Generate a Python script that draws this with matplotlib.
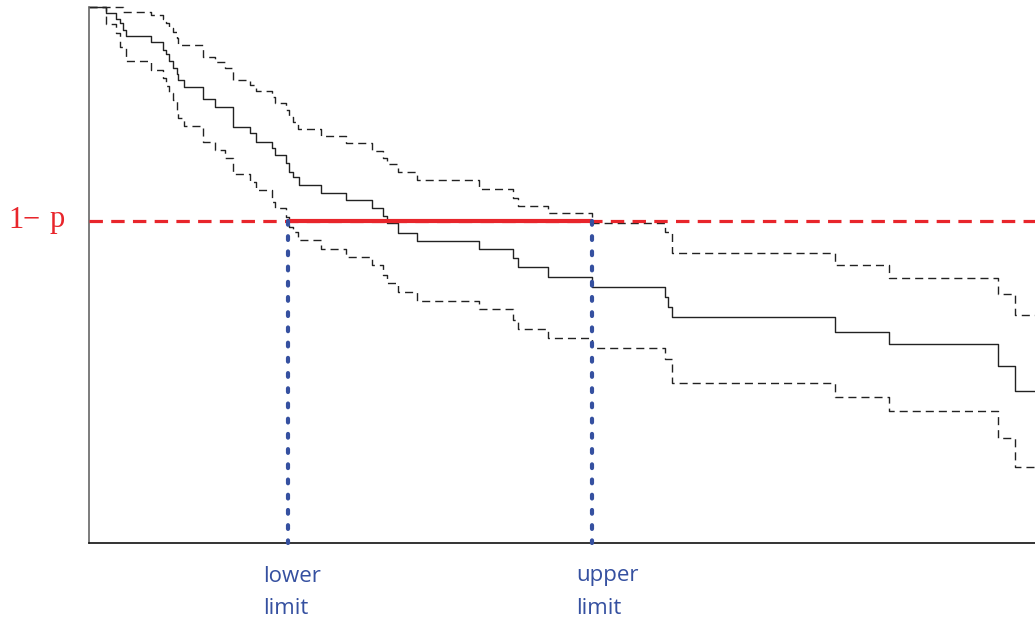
import matplotlib
matplotlib.use('Agg')
import matplotlib.pyplot as plt

W, H = 1035, 622

# step curves (x, level starting at x), y grows downward
est_x = [89, 105.7, 115.7, 120, 122.7, 126, 151, 163.3, 166, 169.3, 173.3, 176.7, 178.3,
         184.3, 202.7, 215, 233.3, 250, 256, 271.7, 275, 285.7, 289.3, 293.3, 299.3,
         320.7, 346, 371.7, 383.3, 387.3, 397.7, 416.7, 479, 513.3, 518.3, 548.3,
         591.7, 665, 667.7, 671.7, 835, 889, 998.3, 1015]
est_y = [7, 12.7, 19, 23.3, 30, 35.7, 42.3, 50, 54.3, 61, 67.7, 74, 80,
         86.7, 99, 106.7, 127.3, 133.3, 141.7, 148.3, 155, 163.3, 171.7, 176.7, 185,
         192.7, 200, 207.7, 216, 223.3, 232.7, 240.7, 249.3, 258.3, 267.3, 276.7,
         286.7, 296.7, 307.3, 317.3, 331.7, 344.3, 365.7, 390.7]

up_x = [89, 123.5, 151, 163.3, 166, 169.3, 173.3, 176.7, 178.3, 202.7, 215, 225, 233.3,
        250, 256, 271.7, 275, 285.7, 289.3, 293.3, 298.3, 320.7, 346, 371.7, 383.3,
        387.3, 397.7, 416.7, 479, 513.3, 518.3, 548.3, 591.7, 665, 671.7, 835, 889,
        998.3, 1015]
up_y = [7, 11.7, 15, 19, 23.3, 28, 32, 38, 45, 56.7, 61.7, 68.3, 80,
        85, 90.7, 97, 103.3, 110, 116.7, 121.7, 129.3, 136, 143.3, 150.7, 158.3,
        164, 171.7, 180, 189.3, 198.3, 205.7, 213.3, 223.3, 232, 252.7, 265, 277.7,
        294.3, 315]

lo_x = [89, 105.7, 115.7, 120.5, 126, 151, 163.3, 166, 169.3, 173.3, 176.7, 178.3, 184.3,
        202.7, 215, 225, 233.3, 250, 256, 271.7, 275, 285.7, 289.3, 293.3, 298.3,
        320.7, 346, 371.7, 383.3, 387.3, 397.7, 416.7, 479, 513.3, 518.3, 548.3,
        591.7, 665, 671.7, 835, 889, 998.3, 1015]
lo_y = [7, 24, 33.3, 46.7, 60.7, 70, 78, 86, 93.3, 100, 110, 118.3, 126,
        141.7, 150, 158.3, 174, 181.7, 190, 201.7, 208.3, 216.7, 226.7, 232.3, 240,
        249.3, 256.7, 265, 275, 282.7, 291.7, 301, 309.3, 320, 329.3, 338.3,
        348.3, 359.3, 382.7, 397.3, 411, 438.3, 467.3]

x_end = 1035
level_p = 220.5
lower_limit = 288.3
upper_limit = 591.7
y_bottom = 543

red = '#e8252b'
blue = '#3550a0'

fig = plt.figure(figsize=(W / 100, H / 100), dpi=100)
ax = fig.add_axes([89 / W, (H - 543) / H, (W - 89) / W, (543 - 7) / H])
ax.set_xlim(89, x_end)
ax.set_ylim(543, 7)

for xs, ys, ls in [(est_x, est_y, '-'), (up_x, up_y, '--'), (lo_x, lo_y, '--')]:
    line, = ax.step(xs + [x_end], ys + [ys[-1]], where='post', color='#222222',
                    lw=1.0, clip_on=False)
    if ls == '--':
        line.set_dashes((5.8, 3.6))

ax.axhline(level_p, color=red, lw=2.3, dashes=(4.2, 2.6), zorder=3)
ax.plot([lower_limit, upper_limit], [level_p, level_p], color=red, lw=3.0,
        solid_capstyle='butt', zorder=4)

for xv in [lower_limit, upper_limit]:
    ax.plot([xv, xv], [level_p, y_bottom], color=blue, lw=3.0,
            linestyle=(0, (0.9, 2.75)), dash_capstyle='round', zorder=5, clip_on=False)

for side in ['top', 'right']:
    ax.spines[side].set_visible(False)
ax.spines['left'].set_color('#666666')
ax.spines['left'].set_linewidth(1.2)
ax.spines['bottom'].set_color('#111111')
ax.spines['bottom'].set_linewidth(1.2)
ax.set_xticks([])
ax.set_yticks([])

# "1− p" label, pieces placed as in the picture
for x0, s in [(8, '1'), (23, '\u2212'), (50, 'p')]:
    fig.text(x0 / W, 1 - 220 / H, s, color=red, fontsize=22,
             family='Liberation Serif', ha='left', va='center')

for x0, word in [(263, 'lower'), (576, 'upper')]:
    fig.text(x0 / W, 1 - 576 / H, word, color=blue, fontsize=16,
             family='Open Sans', ha='left', va='center')
    fig.text(x0 / W, 1 - 608 / H, 'limit', color=blue, fontsize=16,
             family='Open Sans', ha='left', va='center')

fig.savefig('out.png', dpi=100)
